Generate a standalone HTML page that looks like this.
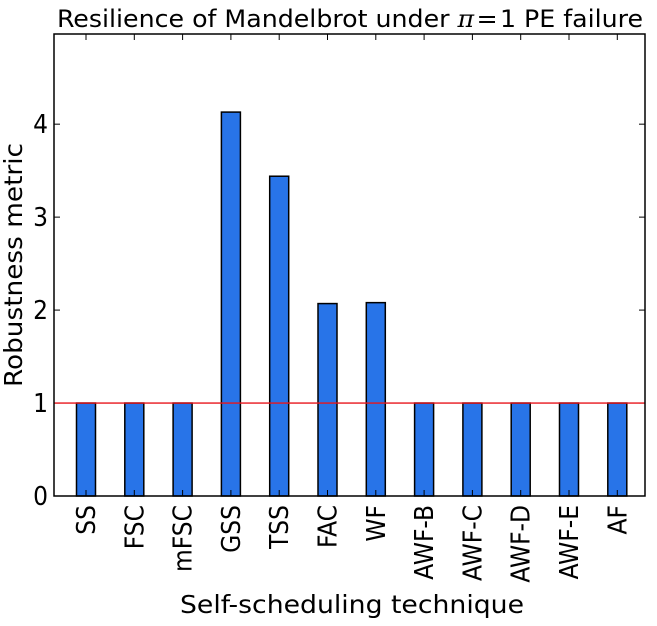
<!DOCTYPE html>
<html><head><meta charset="utf-8"><style>
body{margin:0;background:#fff;}
svg text{font-family:"DejaVu Sans Condensed","DejaVu Sans","Liberation Sans",sans-serif;font-stretch:condensed;fill:#000;}
</style></head><body>
<svg id="chart" width="657" height="621" xmlns="http://www.w3.org/2000/svg">
<rect width="657" height="621" fill="#fff"/>
<text x="57" y="27" font-size="24" textLength="586" lengthAdjust="spacingAndGlyphs">Resilience of Mandelbrot under <tspan font-family="DejaVu Serif" font-style="italic">π</tspan><tspan dx="2">=</tspan><tspan dx="2">1 PE failure</tspan></text>
<text transform="translate(22,265) rotate(-90)" font-size="25" text-anchor="middle" textLength="244" lengthAdjust="spacingAndGlyphs">Robustness metric</text>
<text x="352" y="613" font-size="25" text-anchor="middle" textLength="344" lengthAdjust="spacingAndGlyphs">Self-scheduling technique</text>
<g id="plot"></g>
</svg>
<script>
const categories=["SS","FSC","mFSC","GSS","TSS","FAC","WF","AWF-B","AWF-C","AWF-D","AWF-E","AF"];
const values=[1,1,1,4.13,3.44,2.07,2.08,1,1,1,1,1];
const yTicks=[0,1,2,3,4];
const baseline=1;
const L=54,R=645,T=34,B=496,YMAX=4.97;
const step=48.3, first=86, bw=19;
function x(i){return first+i*step;}
function y(v){return B-(v/YMAX)*(B-T);}
const g=document.getElementById('plot');
const NS="http://www.w3.org/2000/svg";
function mk(t,a){const e=document.createElementNS(NS,t);for(const k in a)e.setAttribute(k,a[k]);g.appendChild(e);return e;}
categories.forEach((c,i)=>{
  const r=mk('rect',{x:x(i)-bw/2,y:y(values[i]),width:bw,height:B-y(values[i]),fill:'#2874e8',stroke:'#000','stroke-width':1.5});
  
  
  const tk=mk('line',{x1:x(i),x2:x(i),y1:B,y2:B-6,stroke:'#000'});
  
  
  const tk2=mk('line',{x1:x(i),x2:x(i),y1:T,y2:T+6,stroke:'#000'});
  
  
  const t=mk('text',{transform:`translate(${x(i)+9},${B+9}) rotate(-90)`,'font-size':26,'text-anchor':'end'});
  t.textContent=c;
  
  
});
yTicks.forEach(v=>{
  const a=mk('line',{x1:L,x2:L+6,y1:y(v),y2:y(v),stroke:'#000'});
  
  
  const b=mk('line',{x1:R-6,x2:R,y1:y(v),y2:y(v),stroke:'#000'});
  
  
  const t=mk('text',{x:L-6,y:y(v)+9,'font-size':26,'text-anchor':'end'});
  t.textContent=v;
  
  
});
const rl=mk('line',{x1:L,x2:R,y1:y(baseline),y2:y(baseline),stroke:'#e8151b','stroke-width':1.3});


const fr=mk('rect',{x:L,y:T,width:R-L,height:B-T,fill:'none',stroke:'#000','stroke-width':1.5});


</script>
</body></html>
